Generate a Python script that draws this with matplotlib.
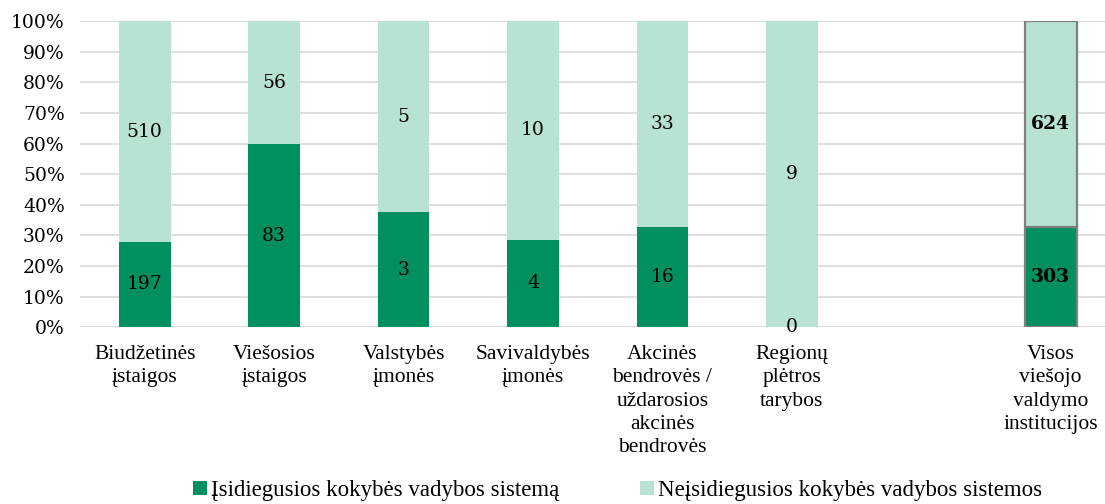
import matplotlib.pyplot as plt
import numpy as np

plt.rcParams['font.family'] = ['Liberation Serif', 'DejaVu Serif']

# data
categories = ['Biudžetinės\nįstaigos', 'Viešosios\nįstaigos', 'Valstybės\nįmonės',
              'Savivaldybės\nįmonės', 'Akcinės\nbendrovės /\nuždarosios\nakcinės\nbendrovės',
              'Regionų\nplėtros\ntarybos', 'Visos\nviešojo\nvaldymo\ninstitucijos']
positions = [0, 1, 2, 3, 4, 5, 7]
with_system = [197, 83, 3, 4, 16, 0, 303]
without_system = [510, 56, 5, 10, 33, 9, 624]
legend_labels = ['Įsidiegusios kokybės vadybos sistemą', 'Neįsidiegusios kokybės vadybos sistemos']

dark = '#00905F'
light = '#B8E3D3'
num_font = 'DejaVu Serif'

w = np.array(with_system, dtype=float)
wo = np.array(without_system, dtype=float)
tot = w + wo
p_w = w / tot * 100
p_wo = wo / tot * 100

fig = plt.figure(figsize=(11.05, 5.04), dpi=100)
ax = fig.add_axes([0.0724, 0.351, 0.9276, 0.607])

edges = ['none'] * 6 + ['#7F7F7F']
lws = [0] * 6 + [1.6]
b1 = ax.bar(positions, p_w, width=0.4, color=dark, edgecolor=edges, linewidth=lws,
            label=legend_labels[0], zorder=3)
b2 = ax.bar(positions, p_wo, width=0.4, bottom=p_w, color=light, edgecolor=edges,
            linewidth=lws, label=legend_labels[1], zorder=3)

for i, x in enumerate(positions):
    bold = 'bold' if i == 6 else 'normal'
    ax.text(x, p_w[i] / 2, str(with_system[i]), ha='center', va='center',
            fontsize=13.5, fontweight=bold, family=num_font, zorder=4)
    ax.text(x, p_w[i] + p_wo[i] / 2, str(without_system[i]), ha='center', va='center',
            fontsize=13.5, fontweight=bold, family=num_font, zorder=4)

ax.set_ylim(0, 100)
ax.set_xlim(-0.5, 7.42)
ax.set_yticks(np.arange(0, 101, 10))
ax.set_yticklabels([f'{v}%' for v in range(0, 101, 10)], fontsize=13.5, family=num_font)
ax.set_xticks(positions)
ax.set_xticklabels(categories, fontsize=15.5, linespacing=1.3)
ax.tick_params(length=0)
ax.tick_params(axis='y', pad=11)
ax.tick_params(axis='x', pad=13)
ax.grid(axis='y', color='#D9D9D9', linewidth=1.2, zorder=0)
for s in ax.spines.values():
    s.set_visible(False)

fig.legend(handles=[b1, b2], labels=legend_labels, loc='lower center', ncol=2,
           bbox_to_anchor=(0.559, -0.035), frameon=False, fontsize=16.5,
           handlelength=0.6, handleheight=0.6, handletextpad=0.2, columnspacing=3.5)

fig.savefig('out.png', dpi=100)
